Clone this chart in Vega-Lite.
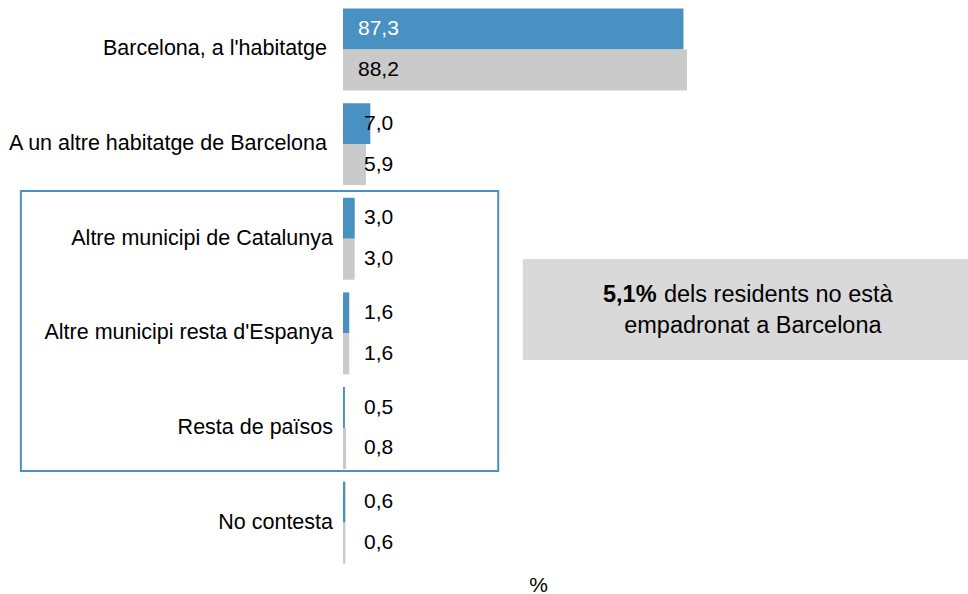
{
  "$schema": "https://vega.github.io/schema/vega-lite/v6.json",
  "width": 968,
  "height": 574,
  "autosize": {"type": "none"},
  "padding": {"left": 0, "top": 0, "right": 0, "bottom": 20},
  "background": "white",
  "config": {
    "view": {"stroke": null},
    "locale": {"number": {"decimal": ",", "thousands": ".", "grouping": [3], "currency": ["", " €"]}},
    "axisY": {"disable": true},
    "text": {"font": "Liberation Sans", "fontSize": 21, "color": "black"}
  },
  "data": {
    "values": [
      {"lloc": "Barcelona, a l'habitatge", "serie": "A", "pct": 87.3},
      {"lloc": "Barcelona, a l'habitatge", "serie": "B", "pct": 88.2},
      {"lloc": "A un altre habitatge de Barcelona", "serie": "A", "pct": 7.0},
      {"lloc": "A un altre habitatge de Barcelona", "serie": "B", "pct": 5.9},
      {"lloc": "Altre municipi de Catalunya", "serie": "A", "pct": 3.0},
      {"lloc": "Altre municipi de Catalunya", "serie": "B", "pct": 3.0},
      {"lloc": "Altre municipi resta d'Espanya", "serie": "A", "pct": 1.6},
      {"lloc": "Altre municipi resta d'Espanya", "serie": "B", "pct": 1.6},
      {"lloc": "Resta de països", "serie": "A", "pct": 0.5},
      {"lloc": "Resta de països", "serie": "B", "pct": 0.8},
      {"lloc": "No contesta", "serie": "A", "pct": 0.6},
      {"lloc": "No contesta", "serie": "B", "pct": 0.6}
    ]
  },
  "layer": [
    {
      "mark": {"type": "bar"},
      "encoding": {
        "y": {
          "field": "lloc", "type": "nominal", "sort": null,
          "scale": {
            "domain": ["Barcelona, a l'habitatge", "A un altre habitatge de Barcelona", "Altre municipi de Catalunya", "Altre municipi resta d'Espanya", "Resta de països", "No contesta"],
            "paddingInner": 0.134, "paddingOuter": 0.1, "align": 0.45
          }
        },
        "yOffset": {"field": "serie", "type": "nominal", "scale": {"domain": ["A", "B"], "paddingInner": 0, "paddingOuter": 0}},
        "x": {
          "field": "pct", "type": "quantitative", "title": "%",
          "scale": {"domain": [-87.95, 160.26], "nice": false, "zero": false},
          "axis": {"labels": false, "ticks": false, "domain": false, "grid": false, "titleFont": "Liberation Sans", "titleFontSize": 21, "titleFontWeight": "normal", "titleColor": "black", "titlePadding": 0, "titleX": 538}
        },
        "color": {"field": "serie", "type": "nominal", "scale": {"domain": ["A", "B"], "range": ["#4a91c3", "#cacaca"]}, "legend": null}
      }
    },
    {
      "data": {"values": [{}]},
      "mark": {"type": "rect", "filled": false, "color": "#4a91c3", "strokeWidth": 2},
      "encoding": {
        "x": {"datum": -82.6, "type": "quantitative"},
        "x2": {"datum": 39.8},
        "y": {"datum": "Altre municipi de Catalunya", "type": "nominal", "bandPosition": -0.0825},
        "y2": {"datum": "Resta de països", "bandPosition": 1.025}
      }
    },
    {
      "data": {"values": [{}]},
      "mark": {"type": "rect", "color": "#d9d9d9"},
      "encoding": {
        "x": {"datum": 46.1, "type": "quantitative"},
        "x2": {"datum": 160.26},
        "y": {"datum": "Altre municipi de Catalunya", "type": "nominal", "bandPosition": 0.747},
        "y2": {"datum": "Altre municipi resta d'Espanya", "bandPosition": 0.825}
      }
    },
    {
      "data": {"values": [{}]},
      "mark": {"type": "text", "align": "right", "baseline": "alphabetic", "fontWeight": "bold", "fontSize": 23.5},
      "encoding": {
        "x": {"datum": 80.4, "type": "quantitative"},
        "y": {"datum": "Altre municipi de Catalunya", "type": "nominal", "bandPosition": 1.266},
        "text": {"value": "5,1%"}
      }
    },
    {
      "data": {"values": [{}]},
      "mark": {"type": "text", "align": "left", "baseline": "alphabetic", "fontSize": 23.5},
      "encoding": {
        "x": {"datum": 82.3, "type": "quantitative"},
        "y": {"datum": "Altre municipi de Catalunya", "type": "nominal", "bandPosition": 1.266},
        "text": {"value": "dels residents no està"}
      }
    },
    {
      "data": {"values": [{}]},
      "mark": {"type": "text", "align": "center", "baseline": "alphabetic", "fontSize": 23.5},
      "encoding": {
        "x": {"datum": 105.1, "type": "quantitative"},
        "y": {"datum": "Altre municipi resta d'Espanya", "type": "nominal", "bandPosition": 0.499},
        "text": {"value": "empadronat a Barcelona"}
      }
    },
    {
      "transform": [{"filter": {"and": [{"field": "serie", "equal": "A"}, {"field": "lloc", "oneOf": ["Barcelona, a l'habitatge", "A un altre habitatge de Barcelona"]}]}}],
      "mark": {"type": "text", "align": "right", "baseline": "middle", "dx": -16, "fontSize": 21.5},
      "encoding": {
        "x": {"datum": 0, "type": "quantitative"},
        "y": {"field": "lloc", "type": "nominal"},
        "text": {"field": "lloc"}
      }
    },
    {
      "transform": [{"filter": {"and": [{"field": "serie", "equal": "A"}, {"not": {"field": "lloc", "oneOf": ["Barcelona, a l'habitatge", "A un altre habitatge de Barcelona"]}}]}}],
      "mark": {"type": "text", "align": "right", "baseline": "middle", "dx": -10, "fontSize": 21.5},
      "encoding": {
        "x": {"datum": 0, "type": "quantitative"},
        "y": {"field": "lloc", "type": "nominal"},
        "text": {"field": "lloc"}
      }
    },
    {
      "transform": [{"filter": {"field": "lloc", "equal": "Barcelona, a l'habitatge"}}],
      "mark": {"type": "text", "align": "left", "baseline": "middle", "dx": 15},
      "encoding": {
        "x": {"datum": 0, "type": "quantitative"},
        "y": {"field": "lloc", "type": "nominal"},
        "yOffset": {"field": "serie", "type": "nominal"},
        "text": {"field": "pct", "type": "quantitative", "format": ".1f"},
        "color": {"condition": {"test": "datum.serie === 'A'", "value": "white"}, "value": "black"}
      }
    },
    {
      "transform": [{"filter": {"not": {"field": "lloc", "equal": "Barcelona, a l'habitatge"}}}],
      "mark": {"type": "text", "align": "left", "baseline": "middle", "dx": 21},
      "encoding": {
        "x": {"datum": 0, "type": "quantitative"},
        "y": {"field": "lloc", "type": "nominal"},
        "yOffset": {"field": "serie", "type": "nominal"},
        "text": {"field": "pct", "type": "quantitative", "format": ".1f"}
      }
    }
  ]
}
